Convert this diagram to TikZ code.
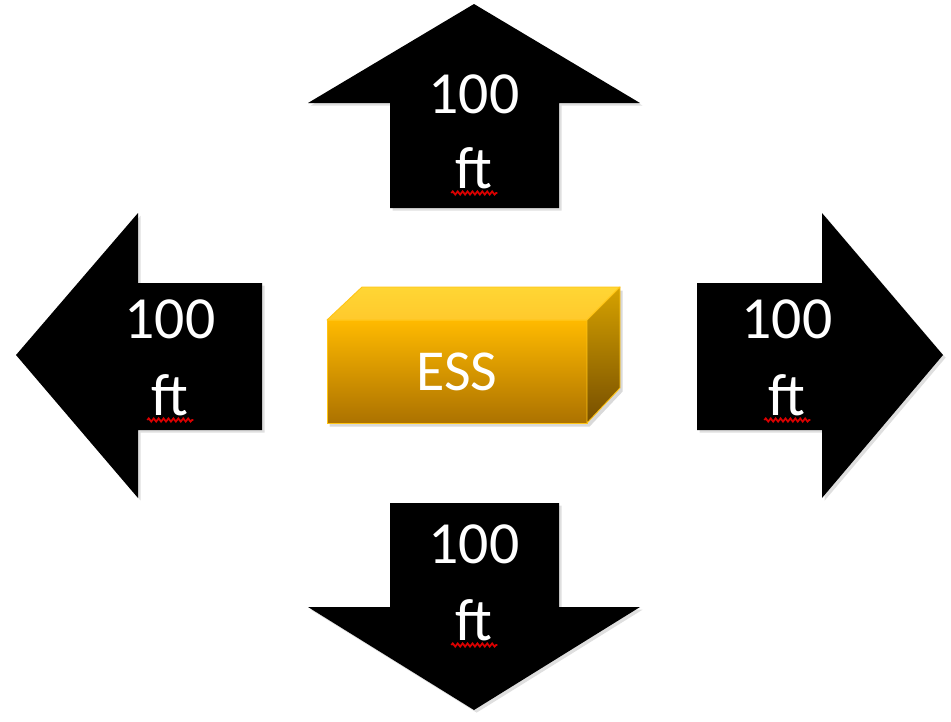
\documentclass[tikz,border=0pt]{standalone}
\usepackage{fontspec}
\setmainfont{Carlito}
\usetikzlibrary{shadows,decorations.pathmorphing}

\definecolor{esstop}{RGB}{255,214,52}
\definecolor{essfronttop}{RGB}{255,186,0}
\definecolor{essfrontbot}{RGB}{172,114,0}
\definecolor{esssidetop}{RGB}{214,162,0}
\definecolor{esssidebot}{RGB}{118,78,0}
\definecolor{essedge}{RGB}{255,196,20}

\tikzset{
  bigarrow/.style={fill=black, drop shadow={opacity=0.25, shadow xshift=1.5pt, shadow yshift=-1.5pt}},
  lbl/.style={text=white, inner sep=0pt, anchor=base, font=\fontsize{34}{40}\selectfont},
  squiggle/.style={red!85!black, line width=1pt, decorate,
    decoration={snake, segment length=2.8pt, amplitude=0.9pt}},
  face/.style={draw=essedge, line width=0.5pt, line join=round}
}

\begin{document}
\begin{tikzpicture}[x=0.02cm, y=-0.02cm]
\useasboundingbox (0,0) rectangle (951,721);

% arrows
\path[bigarrow] (390,208) -- (390,103) -- (308,103) -- (474,4) -- (640,103) -- (559,103) -- (559,208) -- cycle;
\path[bigarrow] (262,283) -- (138,283) -- (138,213) -- (16,355) -- (138,498) -- (138,430) -- (262,430) -- cycle;
\path[bigarrow] (697,283) -- (822,283) -- (822,213) -- (943,355) -- (822,498) -- (822,430) -- (697,430) -- cycle;
\path[bigarrow] (390,503) -- (390,607) -- (308,607) -- (474,710) -- (640,607) -- (559,607) -- (559,503) -- cycle;

% labels
\node[lbl] (up100) at (474,113) {100};
\node[lbl] (upft) at (474,188) {ft};
\node[lbl] (left100) at (170,338) {100};
\node[lbl] (leftft) at (170,415) {ft};
\node[lbl] (right100) at (787,338) {100};
\node[lbl] (rightft) at (787,415) {ft};
\node[lbl] (down100) at (474,563) {100};
\node[lbl] (downft) at (474,640) {ft};

% spell check marks
\foreach \n in {upft,leftft,rightft,downft}
  \draw[squiggle] (\n.base west) ++(-4,5) -- ++(46,0);

% ESS box
\path[drop shadow={opacity=0.3, shadow xshift=1.5pt, shadow yshift=-2pt}]
  (327,320) -- (362,287) -- (620,287) -- (620,388) -- (587,423) -- (327,423) -- cycle;
\path[face, top color=essfronttop, bottom color=essfrontbot] (327,320) rectangle (587,423);
\path[face, top color=esstop, bottom color=esstop!85!orange] (327,320) -- (362,287) -- (620,287) -- (587,320) -- cycle;
\path[face, top color=esssidetop, bottom color=esssidebot] (587,320) -- (620,287) -- (620,388) -- (587,423) -- cycle;
\node[lbl, font=\fontsize{33}{40}\selectfont] (ess) at (457,390) {ESS};
\end{tikzpicture}
\end{document}
